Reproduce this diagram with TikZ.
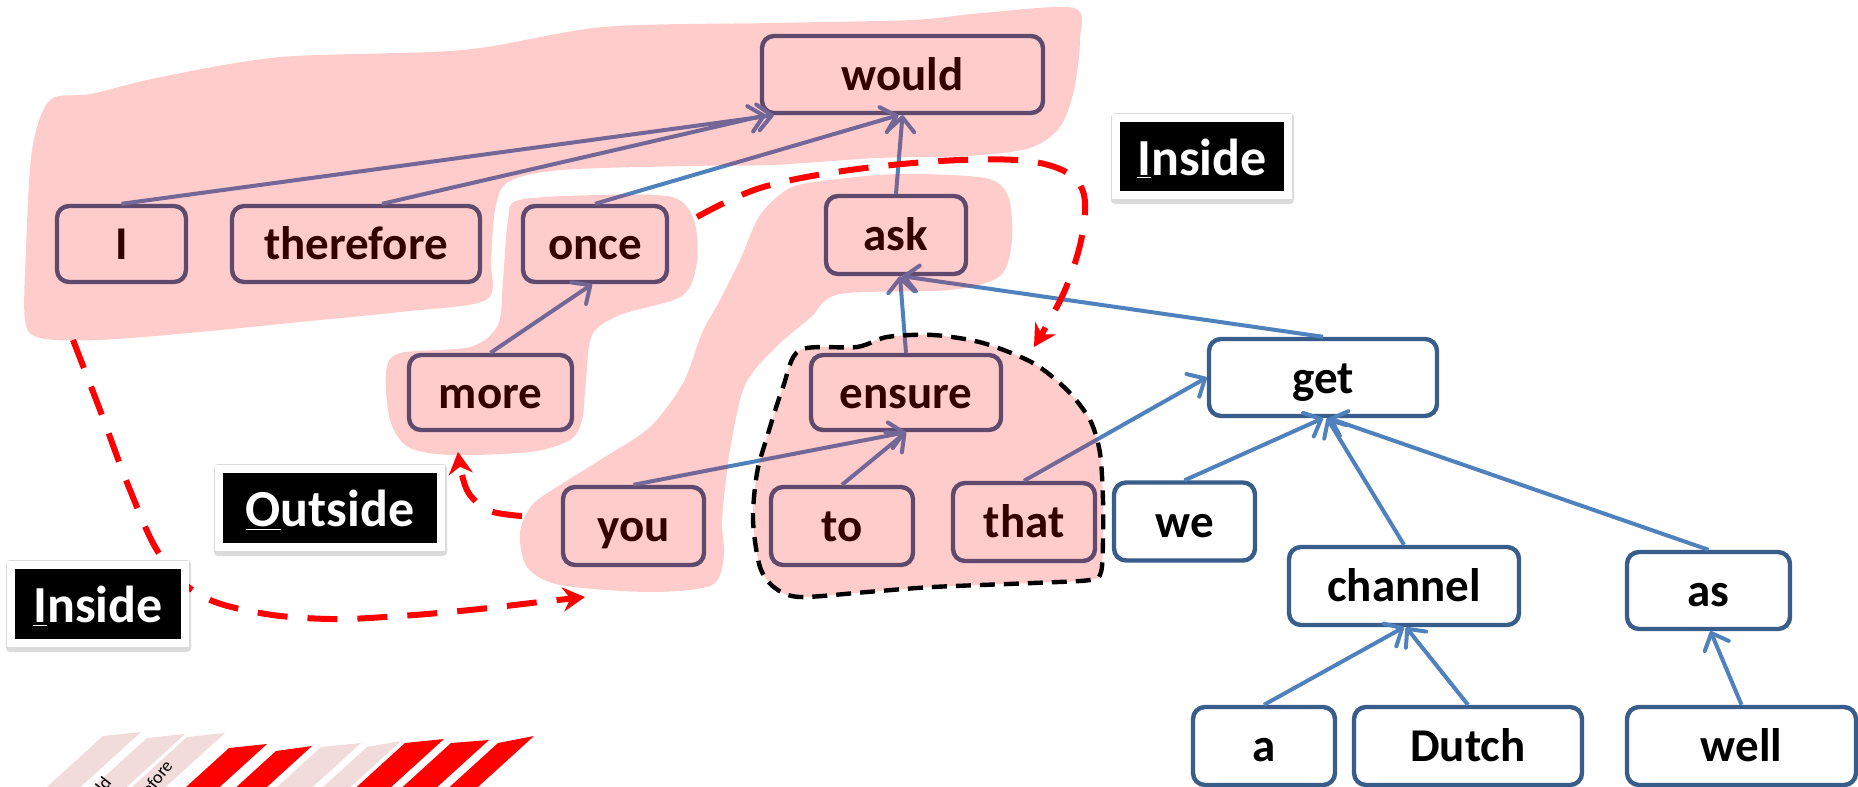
\documentclass[tikz,border=0pt]{standalone}
\usepackage{fontspec}
\newfontfamily\carlito{Carlito}
\usetikzlibrary{arrows.meta,backgrounds}
\definecolor{edgeblue}{HTML}{4F81BD}
\definecolor{boxblue}{HTML}{385D8A}
\definecolor{stripepink}{HTML}{F2DCDB}
\tikzset{
  wordbox/.style={draw=boxblue, line width=2.2pt, fill=white, rounded corners=6pt, inner sep=0pt,
    font=\carlito\bfseries\fontsize{23.5}{28}\selectfont, text=black, text height=19pt, text depth=3.5pt},
  edge/.style={draw=edgeblue, line width=2pt, -{Straight Barb[length=7pt,width=13pt,round]}},
  labbox/.style={fill=black, draw=white, line width=4pt, text=white, inner sep=0pt,
    font=\carlito\bfseries\fontsize{26}{30}\selectfont, text height=20pt, text depth=1.5pt},
  labshadow/.style={fill=black!14, rounded corners=2pt},
  pinkov/.style={fill=red, fill opacity=0.2},
  blackdash/.style={draw=black, line width=2.2pt, dash pattern=on 7.5pt off 4.5pt},
  reddash/.style={draw=red, line width=3pt, dash pattern=on 15pt off 10pt, -{Stealth[length=11pt,width=12pt]}},
  stripelight/.style={fill=stripepink},
  stripered/.style={fill=red},
  fragtext/.style={font=\carlito\fontsize{9}{10}\selectfont, text=black, rotate=52, inner sep=0pt}
}
\begin{document}
\begin{tikzpicture}[x=0.5pt, y=-0.5pt]
\useasboundingbox (0,0) rectangle (1858,787);

% nodes
\node[wordbox, minimum width=140.5pt, minimum height=38.5pt] (would) at (902.5,74.5) {would};
\node[wordbox, minimum width=64.5pt, minimum height=38pt] (I) at (121.5,244) {I};
\node[wordbox, minimum width=124pt, minimum height=38pt] (therefore) at (356,244) {therefore};
\node[wordbox, minimum width=72pt, minimum height=38pt] (once) at (595,244) {once};
\node[wordbox, minimum width=70pt, minimum height=39pt] (ask) at (896,235) {ask};
\node[wordbox, minimum width=81.5pt, minimum height=37.5pt] (more) at (490.5,392.5) {more};
\node[wordbox, minimum width=95pt, minimum height=37.5pt] (ensure) at (906,392.5) {ensure};
\node[wordbox, minimum width=114pt, minimum height=38.5pt] (get) at (1323,377.5) {get};
\node[wordbox, minimum width=70.5pt, minimum height=39pt] (you) at (633.5,526) {you};
\node[wordbox, minimum width=71pt, minimum height=39pt] (to) at (842,526) {to};
\node[wordbox, minimum width=71pt, minimum height=39pt] (that) at (1024,522) {that};
\node[wordbox, minimum width=70.5pt, minimum height=39pt] (we) at (1184.5,521.5) {we};
\node[wordbox, minimum width=115pt, minimum height=39pt] (channel) at (1404,586) {channel};
\node[wordbox, minimum width=81.5pt, minimum height=38.5pt] (as) at (1708.5,590.5) {as};
\node[wordbox, minimum width=71pt, minimum height=39pt] (a) at (1264,746) {a};
\node[wordbox, minimum width=114pt, minimum height=39pt] (Dutch) at (1468,746) {Dutch};
\node[wordbox, minimum width=114.5pt, minimum height=39pt] (well) at (1741.5,746) {well};

% edges
\draw[edge] (I.north) -- ([xshift=7pt]would.south west);
\draw[edge] ([xshift=13pt]therefore.north) -- ([xshift=3pt]would.south west);
\draw[edge] (once.north) -- ([xshift=-2pt]would.south);
\draw[edge] (ask.north) -- (would.south);
\draw[edge] (ensure.north) -- ([xshift=2pt]ask.south);
\draw[edge] (get.north) -- ([xshift=3pt]ask.south);
\draw[edge] (more.north) -- ([xshift=-1.5pt]once.south);
\draw[edge] (you.north) -- (ensure.south);
\draw[edge] (to.north) -- (ensure.south);
\draw[edge] (that.north) -- (get.west);
\draw[edge] (we.north) -- (get.south);
\draw[edge] (channel.north) -- ([xshift=2pt]get.south);
\draw[edge] (as.north) -- ([xshift=3pt]get.south);
\draw[edge] (a.north) -- (channel.south);
\draw[edge] (Dutch.north) -- ([xshift=1pt]channel.south);
\draw[edge] (well.north) -- ([xshift=1pt]as.south);

% pink highlight overlay
\fill[pinkov]
  plot[smooth cycle, tension=0.5] coordinates {(50,100) (91,94) (161,77) (281,57) (463,50) (603,27) (772,23) (912,20) (982,13) (1074,8) (1080,40) (1074,90) (1060,127) (1030,148) (968,156) (877,158) (772,165) (688,166) (561,170) (508,182) (495,210) (491,260) (486,300) (400,312) (300,322) (200,332) (100,340) (40,338) (25,320) (26,250) (32,150)}
  plot[smooth cycle, tension=0.5] coordinates {(519,200) (600,195) (672,197) (694,220) (697,262) (682,296) (620,315) (592,335) (586,380) (582,420) (570,440) (530,452) (450,455) (408,447) (390,420) (386,372) (400,353) (470,347) (498,325) (503,280) (508,220)}
  plot[smooth cycle, tension=0.5] coordinates {(830,180) (900,174) (985,178) (1008,196) (1012,240) (1000,276) (950,290) (840,294) (810,318) (775,348) (745,385) (730,450) (722,520) (724,555) (712,585) (650,592) (560,585) (527,567) (520,533) (532,505) (560,485) (600,460) (650,427) (683,383) (702,333) (720,300) (740,260) (760,215) (790,188)}
  plot[smooth cycle, tension=0.5] coordinates {(800,350) (857,347) (887,337) (933,335) (983,343) (1033,363) (1067,390) (1090,420) (1100,453) (1103,500) (1103,540) (1101,572) (1090,580) (1033,583) (933,587) (867,592) (800,597) (775,588) (760,567) (753,520) (757,473) (767,437) (783,387)};
\draw[blackdash] plot[smooth cycle, tension=0.5] coordinates {(800,350) (857,347) (887,337) (933,335) (983,343) (1033,363) (1067,390) (1090,420) (1100,453) (1103,500) (1103,540) (1101,572) (1090,580) (1033,583) (933,587) (867,592) (800,597) (775,588) (760,567) (753,520) (757,473) (767,437) (783,387)};

% red dashed arrows
\draw[reddash] plot[smooth, tension=0.6] coordinates {(697,217) (760,188) (850,170) (960,160) (1040,163) (1080,185) (1083,230) (1065,290) (1034,347)};
\draw[reddash] plot[smooth, tension=0.6] coordinates {(73,340) (100,410) (130,490) (160,555) (200,595) (260,613) (330,619) (400,616) (470,610) (540,602) (585,597)};
\draw[reddash] plot[smooth, tension=0.6] coordinates {(522,516) (490,511) (470,495) (462,475) (458,452)};

% labels
\node[labbox, minimum width=86pt, minimum height=38.5pt] (insideTop) at (1202,156.5) {\underline{I}nside};
\node[labbox, minimum width=111pt, minimum height=39pt] (outside) at (330,508) {\underline{O}utside};
\node[labbox, minimum width=87pt, minimum height=39pt] (insideBot) at (98,604) {\underline{I}nside};
\begin{pgfonlayer}{background}
\fill[labshadow] ([xshift=-0.5pt,yshift=-2.5pt]insideTop.south west) rectangle ([xshift=1pt,yshift=0.5pt]insideTop.north east);
\fill[labshadow] ([xshift=-0.5pt,yshift=-2.5pt]outside.south west) rectangle ([xshift=1pt,yshift=0.5pt]outside.north east);
\fill[labshadow] ([xshift=-0.5pt,yshift=-2.5pt]insideBot.south west) rectangle ([xshift=1pt,yshift=0.5pt]insideBot.north east);
\end{pgfonlayer}

% stripes at bottom
\fill[stripelight] (103,736) -- (141,732) -- (66.2,800) -- (32.6,800) -- cycle;
\fill[stripelight] (147,738) -- (185,734) -- (112.4,800) -- (78.8,800) -- cycle;
\fill[stripelight] (187,737) -- (225,733) -- (151.3,800) -- (117.7,800) -- cycle;
\fill[stripered] (229,748) -- (267,744) -- (205.4,800) -- (171.8,800) -- cycle;
\fill[stripered] (276,751) -- (312,746) -- (252.6,800) -- (222.1,800) -- cycle;
\fill[stripelight] (321,747) -- (361,743) -- (298.3,800) -- (262.7,800) -- cycle;
\fill[stripelight] (367,747) -- (401,741) -- (336.1,800) -- (308.7,800) -- cycle;
\fill[stripered] (405,743) -- (444,739) -- (376.9,800) -- (342.3,800) -- cycle;
\fill[stripered] (451,743) -- (489,740) -- (423,800) -- (388.3,800) -- cycle;
\fill[stripered] (498,743) -- (534,736) -- (463.6,800) -- (435.3,800) -- cycle;
\node[fragtext, anchor=south west] (fragA) at (104,794) {ld};
\node[fragtext, anchor=south west] (fragB) at (150,797) {efore};
\end{tikzpicture}
\end{document}
